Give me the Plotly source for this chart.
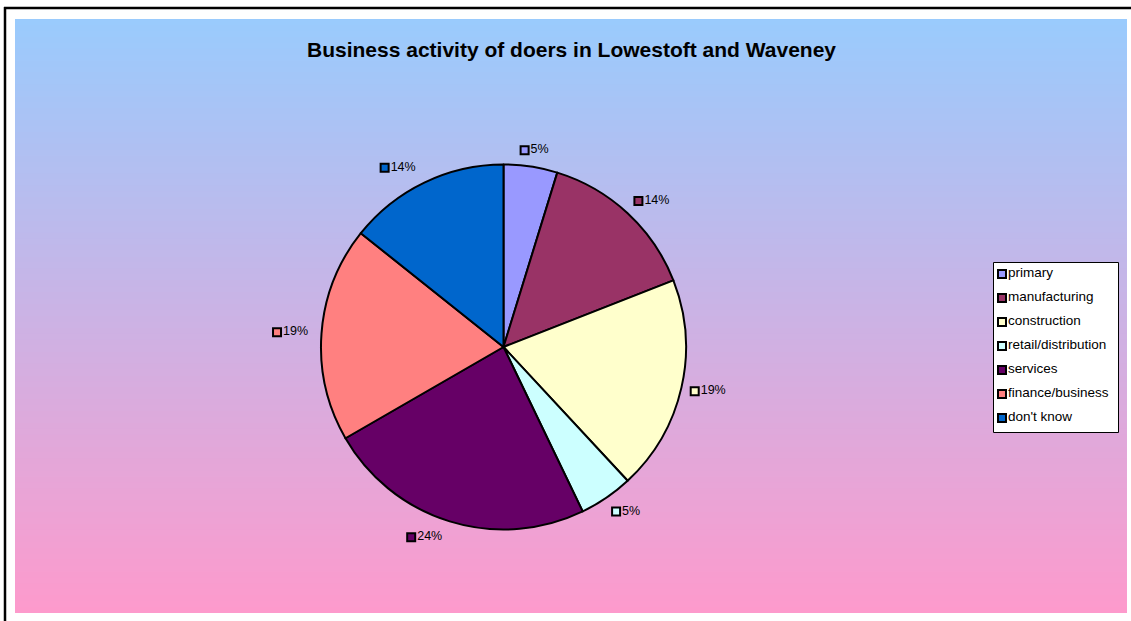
import numpy as np
import plotly.graph_objects as go

W, H = 1131, 621

categories = ["primary", "manufacturing", "construction", "retail/distribution",
              "services", "finance/business", "don't know"]
counts = [1, 3, 4, 1, 5, 4, 3]
colors = ["#9999FF", "#993366", "#FFFFCC", "#CCFFFF", "#660066", "#FF8080", "#0066CC"]
title_text = "Business activity of doers in Lowestoft and Waveney"

# layout geometry (pixels)
cx, cy, R = 503.5, 347.0, 182.5
FONT = "Liberation Sans, Arial, sans-serif"

fig = go.Figure()

# background gradient
top_c = np.array([154, 203, 253])
bot_c = np.array([253, 154, 204])
y0, y1 = 19, 613
n = 100
shapes = []
edges = np.linspace(y0, y1, n + 1)
for i in range(n):
    t = (i + 0.5) / n
    c = (top_c * (1 - t) + bot_c * t).round().astype(int)
    shapes.append(dict(type="rect", xref="x", yref="y", x0=15, x1=1127,
                       y0=edges[i], y1=min(y1, edges[i + 1] + 4), layer="below",
                       line=dict(width=0), fillcolor=f"rgb({c[0]},{c[1]},{c[2]})"))
# outer frame lines
shapes.append(dict(type="line", xref="x", yref="y", x0=4, x1=W, y0=8, y1=8,
                   line=dict(color="black", width=2.5), layer="below"))
shapes.append(dict(type="line", xref="x", yref="y", x0=5, x1=5, y0=7, y1=H,
                   line=dict(color="black", width=2.5), layer="below"))
# legend box
lx0, lx1, ly0, ly1 = 993.5, 1118.5, 262.5, 432.5
shapes.append(dict(type="rect", xref="x", yref="y", x0=lx0, x1=lx1, y0=ly0, y1=ly1,
                   fillcolor="white", line=dict(color="black", width=1), layer="below"))

# pie
fig.add_trace(go.Pie(
    values=counts, labels=categories, sort=False, direction="clockwise", rotation=0,
    marker=dict(colors=colors, line=dict(color="black", width=2)),
    textinfo="none", showlegend=False, hoverinfo="label+percent",
    domain=dict(x=[(cx - R) / W, (cx + R) / W], y=[1 - (cy + R) / H, 1 - (cy - R) / H]),
))

# data labels around the pie
vals = np.array(counts, dtype=float)
frac = vals / vals.sum()
cum = np.cumsum(frac)
mid = (cum - frac / 2) * 2 * np.pi
pct = [f"{round(f * 100)}%" for f in frac]
ra = 191.0
hgt = 14.0
mx, my = [], []
for ang, txt in zip(mid, pct):
    s, c = np.sin(ang), np.cos(ang)
    wdt = 11 + 6.95 * (len(txt) - 1) + 11.1
    g = 1.0 if abs(s) > 0.25 else abs(s)
    bx = cx + ra * s + np.sign(s) * g * wdt / 2 - (5 if s < -0.25 else 0)
    by = cy - ra * c - c * (hgt / 2 + 1)
    mx.append(bx - wdt / 2 + 5)
    my.append(by)

fig.add_trace(go.Scatter(
    x=mx, y=my, mode="markers+text", text=pct, textposition="middle right",
    marker=dict(symbol="square", size=8, color=colors, line=dict(color="black", width=2)),
    textfont=dict(family=FONT, size=12.5, color="black"),
    showlegend=False, hoverinfo="skip", cliponaxis=False,
))

# legend entries
leg_y = [274 + 24 * i for i in range(len(categories))]
fig.add_trace(go.Scatter(
    x=[1002] * len(categories), y=leg_y, mode="markers+text", text=categories,
    textposition="middle right",
    marker=dict(symbol="square", size=8, color=colors, line=dict(color="black", width=2)),
    textfont=dict(family=FONT, size=13.5, color="black"),
    showlegend=False, hoverinfo="skip", cliponaxis=False,
))

fig.add_annotation(x=571, y=49, xref="x", yref="y", text=f"<b>{title_text}</b>",
                   showarrow=False, font=dict(family=FONT, size=21, color="black"))

fig.update_layout(
    width=W, height=H, autosize=False,
    margin=dict(l=0, r=0, t=0, b=0),
    paper_bgcolor="white", plot_bgcolor="rgba(0,0,0,0)",
    xaxis=dict(range=[0, W], visible=False, fixedrange=True),
    yaxis=dict(range=[H, 0], visible=False, fixedrange=True),
    shapes=shapes, showlegend=False,
)

fig.write_html("out.html", config={"displayModeBar": False},
               post_script="document.body.style.margin='0';document.body.style.overflow='hidden';")
